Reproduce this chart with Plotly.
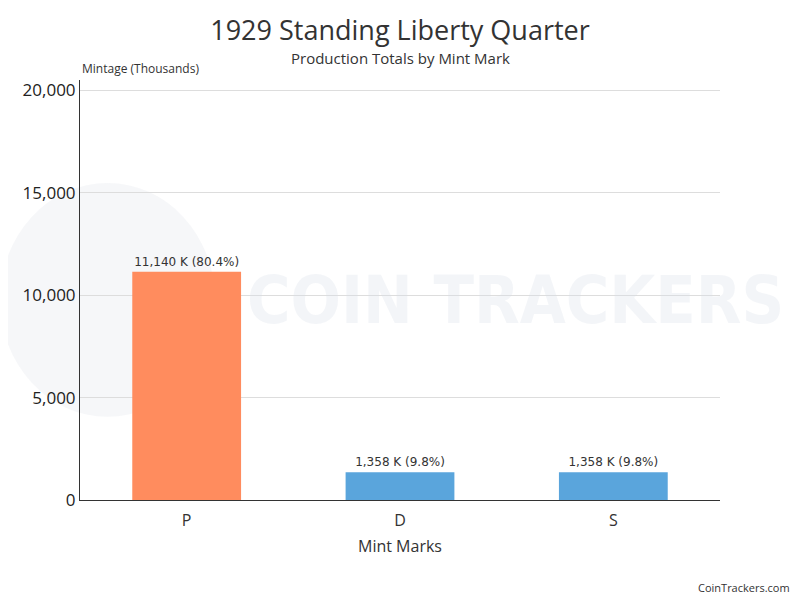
import plotly.graph_objects as go

categories = ["P", "D", "S"]
mintage = [11140, 1358, 1358]
colors = ["#FF8C5E", "#5AA5DC", "#5AA5DC"]
tick_vals = [0, 5000, 10000, 15000, 20000]

total = sum(mintage)
labels = [f"{v:,} K ({v / total * 100:.1f}%)" for v in mintage]

# page body has an 8px margin, so the figure is sized to fit the window
W, H = 792, 592
L, T, R, B = 72, 72, 80, 100

fig = go.Figure()

# faint watermark (logo circle + wordmark)
fig.add_shape(type="circle", xref="paper", yref="paper", layer="below",
              x0=-0.125, x1=0.211, y0=0.198, y1=0.755,
              fillcolor="rgba(225,229,236,0.3)", line=dict(width=0))
fig.add_annotation(text="<b>COIN TRACKERS</b>", xref="paper", yref="paper",
                   x=(237 - L) / 640, y=(492 - 292) / 420, xanchor="left", yanchor="middle",
                   showarrow=False,
                   font=dict(family="DejaVu Sans Condensed, Liberation Sans Narrow, sans-serif",
                             size=66, color="rgba(215,222,232,0.3)"))

fig.add_trace(go.Bar(
    x=categories, y=mintage, marker=dict(color=colors, line=dict(width=0)),
    text=labels, textposition="outside", cliponaxis=False,
    textfont=dict(family="DejaVu Sans, sans-serif", size=12, color="#333333"),
    width=0.51, hoverinfo="skip",
))

fig.update_layout(
    width=W, height=H,
    paper_bgcolor="white", plot_bgcolor="rgba(0,0,0,0)",
    margin=dict(l=L, r=R, t=T, b=B, autoexpand=False),
    title=dict(text="1929 Standing Liberty Quarter", x=(L + 320) / W, xanchor="center",
               y=1 - 23 / H, yanchor="middle",
               font=dict(family="Open Sans, sans-serif", size=27, color="#333333")),
    showlegend=False,
    xaxis=dict(showline=True, linecolor="#333333", linewidth=1, automargin=False,
               tickfont=dict(family="Open Sans, sans-serif", size=16, color="#333333"),
               ticklabelstandoff=6,
               title=dict(text="Mint Marks", standoff=10,
                          font=dict(family="Open Sans, sans-serif", size=16, color="#333333")),
               ticks=""),
    yaxis=dict(range=[0, 20500], tickvals=tick_vals, tickformat=",", automargin=False,
               showline=True, linecolor="#333333", linewidth=1,
               gridcolor="#DDDDDD", zeroline=False,
               tickfont=dict(family="Open Sans, sans-serif", size=17, color="#222222")),
)

fig.add_annotation(text="Production Totals by Mint Mark", xref="paper", yref="paper",
                   x=0.5, y=1.0 + 22 / 420, xanchor="center", yanchor="middle", showarrow=False,
                   font=dict(family="Open Sans, sans-serif", size=15, color="#333333"))
fig.add_annotation(text="Mintage (Thousands)", xref="paper", yref="paper",
                   x=0, y=1.0 + 12 / 420, xanchor="left", yanchor="middle", showarrow=False,
                   font=dict(family="Open Sans, sans-serif", size=12, color="#333333"))
fig.add_annotation(text="CoinTrackers.com", xref="paper", yref="paper",
                   x=(784 - L) / 640, y=-(87 / 420), xanchor="right",
                   yanchor="middle", showarrow=False,
                   font=dict(family="Open Sans, sans-serif", size=11, color="#333333"))

fig.write_html("out.html")
